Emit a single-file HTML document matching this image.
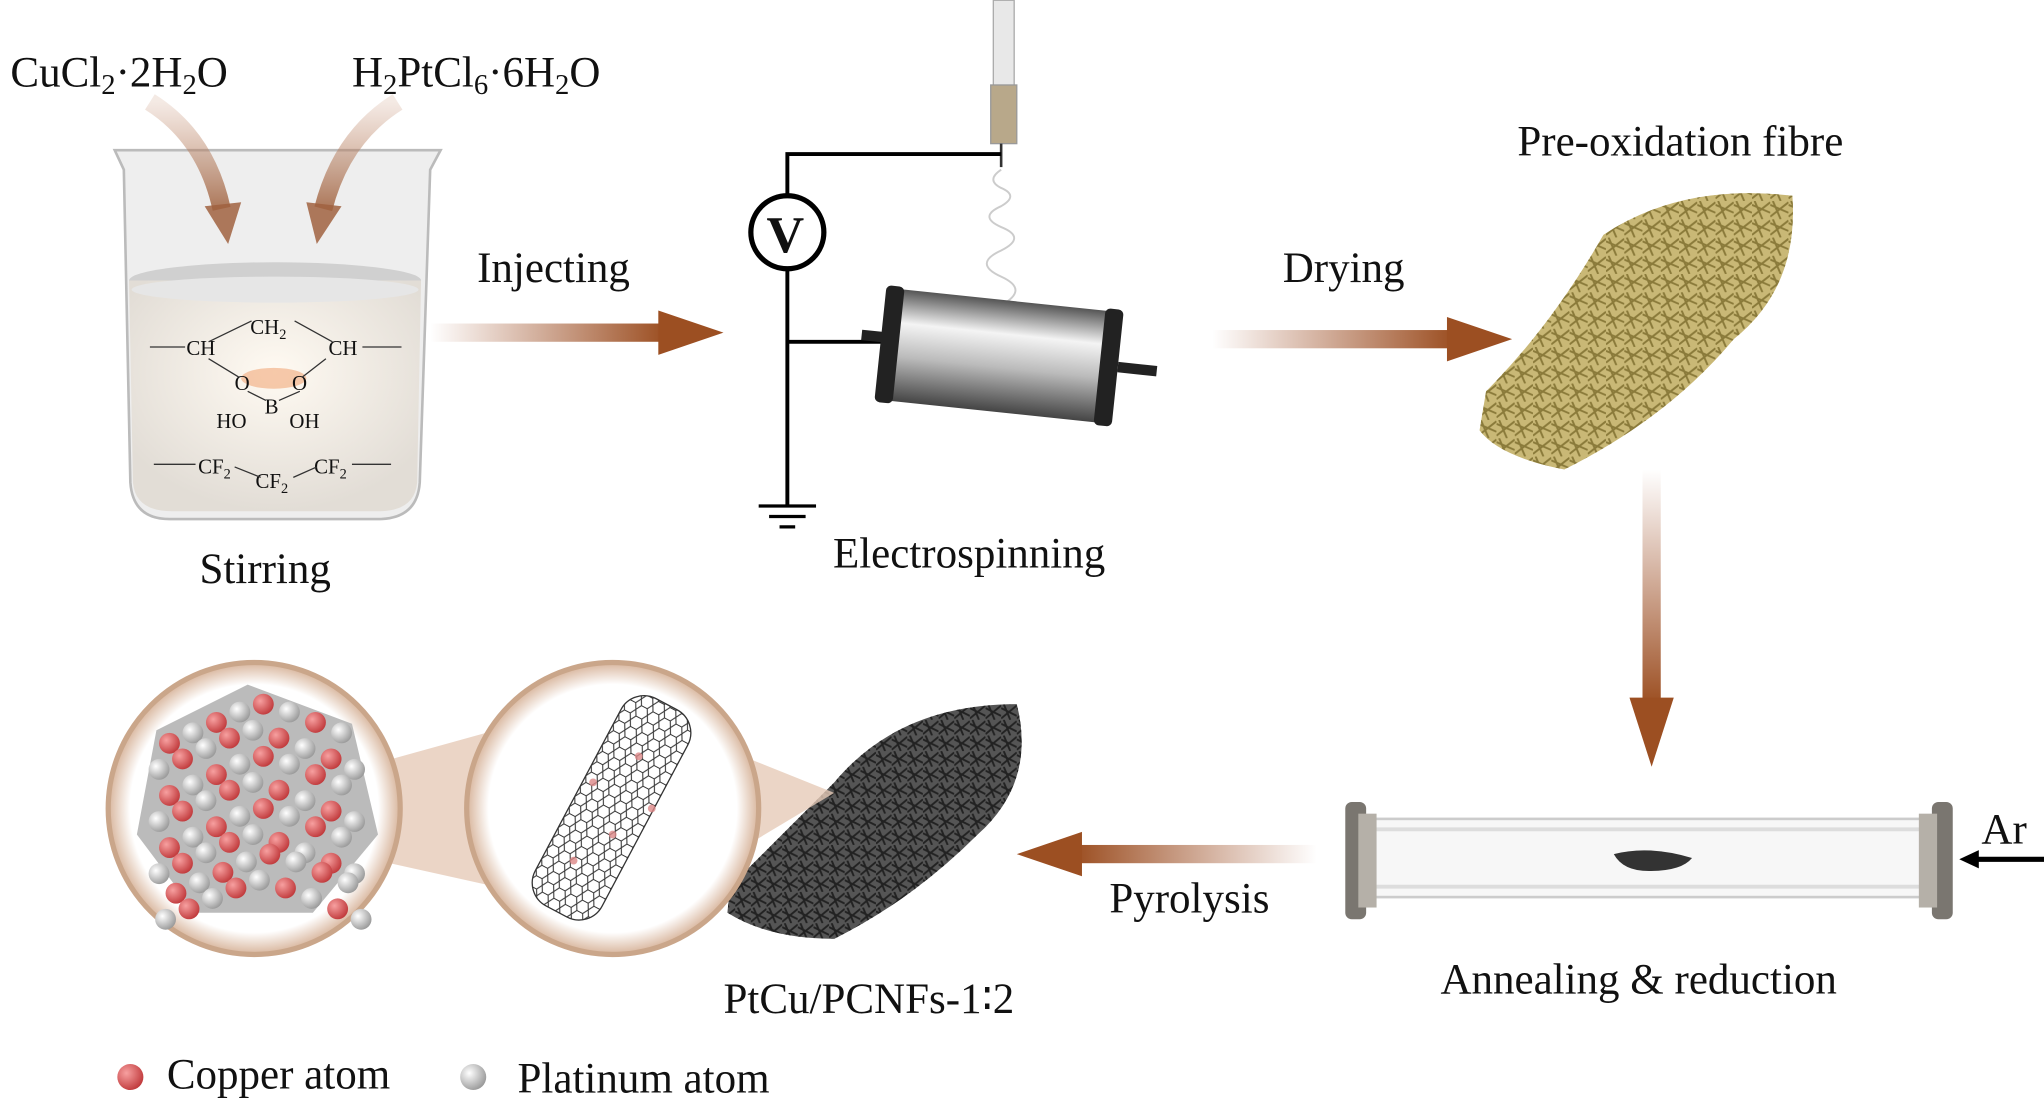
<!DOCTYPE html>
<html><head><meta charset="utf-8"><style>
html,body{margin:0;padding:0;background:#fff;}
svg{display:block;}
text{font-family:"Liberation Serif",serif;fill:#111;}
</style></head><body>
<svg width="2044" height="1102" viewBox="0 0 1568 845" xmlns="http://www.w3.org/2000/svg">
<defs>
<linearGradient id="ar" x1="0" x2="1" y1="0" y2="0"><stop offset="0" stop-color="#a0522d" stop-opacity="0"/><stop offset="1" stop-color="#9c4f22"/></linearGradient>
<linearGradient id="arl" x1="1" x2="0" y1="0" y2="0"><stop offset="0" stop-color="#a0522d" stop-opacity="0"/><stop offset="1" stop-color="#9c4f22"/></linearGradient>
<linearGradient id="ard" x1="0" x2="0" y1="0" y2="1"><stop offset="0" stop-color="#a0522d" stop-opacity="0"/><stop offset="1" stop-color="#9c4f22"/></linearGradient>
<linearGradient id="bk" x1="0" x2="0" y1="0" y2="1"><stop offset="0" stop-color="#c89478" stop-opacity=".2"/><stop offset="1" stop-color="#a0623f" stop-opacity=".85"/></linearGradient>
<linearGradient id="cyl" x1="0" x2="0" y1="0" y2="1"><stop offset="0" stop-color="#555"/><stop offset=".3" stop-color="#f4f4f4"/><stop offset=".6" stop-color="#bbb"/><stop offset="1" stop-color="#444"/></linearGradient>
<radialGradient id="liq" cx=".5" cy=".4" r=".6"><stop offset="0" stop-color="#fffaf2"/><stop offset="1" stop-color="#e2ddd6"/></radialGradient>
<radialGradient id="circ" cx=".5" cy=".5" r=".5"><stop offset=".85" stop-color="#fff"/><stop offset="1" stop-color="#d8b59c"/></radialGradient>
<radialGradient id="cu" cx=".35" cy=".35" r=".7"><stop offset="0" stop-color="#f7a0a0"/><stop offset="1" stop-color="#c0393b"/></radialGradient>
<radialGradient id="pt" cx=".35" cy=".35" r=".7"><stop offset="0" stop-color="#fff"/><stop offset="1" stop-color="#999"/></radialGradient>
<pattern id="fibre" width="14" height="14" patternUnits="userSpaceOnUse"><path d="M0 3 L14 9 M2 0 L8 14 M0 12 L14 1" stroke="#8a7a3a" stroke-width="1.5"/></pattern>
<pattern id="fibreb" width="12" height="12" patternUnits="userSpaceOnUse"><path d="M0 3 L12 9 M2 0 L7 12 M0 11 L12 1" stroke="#222" stroke-width="1.5"/></pattern>
<pattern id="hex" width="10" height="9" patternUnits="userSpaceOnUse"><path d="M0 4.5 L2.5 0 L7.5 0 L10 4.5 L7.5 9 L2.5 9 Z" fill="none" stroke="#333" stroke-width=".8"/></pattern>
</defs>
<text x="8" y="66" font-size="33">CuCl<tspan font-size="22" dy="6">2</tspan><tspan dy="-6">·2H</tspan><tspan font-size="22" dy="6">2</tspan><tspan dy="-6">O</tspan></text>
<text x="270" y="66" font-size="33">H<tspan font-size="22" dy="6">2</tspan><tspan dy="-6">PtCl</tspan><tspan font-size="22" dy="6">6</tspan><tspan dy="-6">·6H</tspan><tspan font-size="22" dy="6">2</tspan><tspan dy="-6">O</tspan></text>
<path d="M88 115 L338 115 L330 130 L322 370 Q320 398 290 398 L130 398 Q102 398 100 370 L95 130 Z" fill="#eeeeee" stroke="#bbb" stroke-width="2"/>
<ellipse cx="211" cy="215" rx="112" ry="14" fill="#d0d0d0"/>
<path d="M99 215 L323 215 L320 370 Q318 392 290 392 L132 392 Q104 392 102 370 Z" fill="url(#liq)"/>
<ellipse cx="211" cy="222" rx="110" ry="10" fill="#e6e6e6"/>
<ellipse cx="210" cy="290" rx="25" ry="8" fill="#f2b48a" opacity=".7"/>
<path d="M115 78 Q158 105 170 160" stroke="url(#bk)" stroke-width="14" fill="none"/>
<path d="M157 158 L175 187 L185 155 Z" fill="#a0623f" opacity=".85"/>
<path d="M305 78 Q262 105 248 160" stroke="url(#bk)" stroke-width="14" fill="none"/>
<path d="M235 155 L243 187 L262 158 Z" fill="#a0623f" opacity=".85"/>
<g font-size="16">
<text x="143" y="272">CH</text><text x="192" y="256">CH<tspan font-size="11" dy="4">2</tspan></text><text x="252" y="272">CH</text>
<text x="180" y="299">O</text><text x="224" y="299">O</text><text x="203" y="317">B</text>
<text x="166" y="328">HO</text><text x="222" y="328">OH</text>
<text x="152" y="363">CF<tspan font-size="11" dy="4">2</tspan></text><text x="196" y="374">CF<tspan font-size="11" dy="4">2</tspan></text><text x="241" y="363">CF<tspan font-size="11" dy="4">2</tspan></text>
</g>
<path d="M160 262 L193 246 M226 246 L255 262 M160 275 L183 289 M250 275 L232 289 M190 300 L204 307 M230 300 L214 307 M180 358 L200 366 M225 366 L243 358 M115 266 L142 266 M278 266 L308 266 M118 356 L150 356 M270 356 L300 356" stroke="#333" fill="none"/>
<text x="153" y="447" font-size="33">Stirring</text>
<rect x="330" y="248" width="180" height="14" fill="url(#ar)"/><path d="M505 238 L555 255 L505 272 Z" fill="#9c4f22"/>
<text x="366" y="216" font-size="33">Injecting</text>
<rect x="762" y="0" width="16" height="72" fill="#e8e8e8" stroke="#aaa"/>
<rect x="760" y="65" width="20" height="45" fill="#b8a88a" stroke="#999"/>
<path d="M768 110 L768 128" stroke="#333" stroke-width="2"/>
<path d="M768 130 q-12 8 0 14 q14 6 0 14 q-18 8 0 16 q20 8 0 18 q-22 10 0 20 q22 10 0 22" stroke="#ccc" fill="none" stroke-width="1.5"/>
<path d="M768 118 L604 118 L604 388 M604 262 L680 262" stroke="#000" stroke-width="3" fill="none"/>
<circle cx="604" cy="178" r="28" fill="#fff" stroke="#000" stroke-width="4"/>
<text x="588" y="193" font-size="40" font-weight="bold">V</text>
<path d="M582 388 L626 388 M590 396 L618 396 M598 404 L610 404" stroke="#000" stroke-width="2.5"/>
<g transform="rotate(6 768 272)">
<rect x="680" y="230" width="170" height="86" fill="url(#cyl)"/>
<rect x="675" y="228" width="14" height="90" rx="4" fill="#222"/>
<rect x="844" y="228" width="14" height="90" rx="4" fill="#222"/>
<rect x="858" y="268" width="30" height="8" fill="#222"/><rect x="660" y="264" width="18" height="8" fill="#222"/>
</g>
<text x="639" y="435" font-size="33">Electrospinning</text>
<rect x="930" y="253" width="185" height="14" fill="url(#ar)"/><path d="M1110 243 L1160 260 L1110 277 Z" fill="#9c4f22"/>
<text x="984" y="216" font-size="33">Drying</text>
<text x="1164" y="119" font-size="33">Pre-oxidation fibre</text>
<path d="M1140 300 Q1190 250 1230 180 Q1290 140 1375 150 Q1380 220 1330 260 Q1280 320 1200 360 Q1150 350 1135 330 Z" fill="#c9b876"/>
<path d="M1140 300 Q1190 250 1230 180 Q1290 140 1375 150 Q1380 220 1330 260 Q1280 320 1200 360 Q1150 350 1135 330 Z" fill="url(#fibre)"/>
<rect x="1260" y="360" width="14" height="180" fill="url(#ard)"/><path d="M1250 535 L1267 588 L1284 535 Z" fill="#9c4f22"/>
<rect x="1045" y="628" width="440" height="60" fill="#f7f7f7" stroke="#ccc" stroke-width="2"/>
<path d="M1045 636 L1485 636 M1045 680 L1485 680" stroke="#ddd" stroke-width="3"/>
<rect x="1032" y="615" width="16" height="90" rx="5" fill="#7a7670"/><rect x="1042" y="624" width="14" height="72" fill="#b5b0a8"/>
<rect x="1482" y="615" width="16" height="90" rx="5" fill="#7a7670"/><rect x="1472" y="624" width="14" height="72" fill="#b5b0a8"/>
<path d="M1238 655 Q1265 648 1298 658 Q1290 668 1265 668 Q1245 668 1238 655 Z" fill="#333"/>
<text x="1520" y="647" font-size="33">Ar</text>
<path d="M1568 659 L1515 659" stroke="#000" stroke-width="4"/><path d="M1518 652 L1503 659 L1518 666 Z" fill="#000"/>
<text x="1105" y="762" font-size="33">Annealing &amp; reduction</text>
<rect x="825" y="648" width="185" height="14" fill="url(#arl)"/><path d="M830 638 L780 655 L830 672 Z" fill="#9c4f22"/>
<text x="851" y="700" font-size="33">Pyrolysis</text>
<path d="M560 680 Q600 640 640 600 Q690 540 780 540 Q795 600 750 640 Q700 690 640 720 Q590 720 558 700 Z" fill="#555"/>
<path d="M560 680 Q600 640 640 600 Q690 540 780 540 Q795 600 750 640 Q700 690 640 720 Q590 720 558 700 Z" fill="url(#fibreb)"/>
<text x="555" y="777" font-size="33">PtCu/PCNFs-1∶2</text>
<path d="M520 560 L640 608 L520 680 Z" fill="#e6cbb8" opacity=".8"/>
<path d="M290 585 L380 560 L380 680 L290 660 Z" fill="#e6cbb8" opacity=".8"/>
<circle cx="470" cy="620" r="112" fill="url(#circ)" stroke="#caa68a" stroke-width="4"/>
<g transform="rotate(28 470 620)">
<rect x="440" y="530" width="58" height="180" rx="20" fill="#fff" stroke="#333"/>
<rect x="440" y="530" width="58" height="180" rx="20" fill="url(#hex)"/>
</g>
<g fill="#d88" opacity=".8"><circle cx="455" cy="600" r="3"/><circle cx="470" cy="640" r="3"/><circle cx="490" cy="580" r="3"/><circle cx="440" cy="660" r="3"/><circle cx="500" cy="620" r="3"/></g>
<circle cx="195" cy="620" r="112" fill="url(#circ)" stroke="#caa68a" stroke-width="4"/>
<g>
<path d="M120 560 L190 525 L270 555 L290 640 L240 700 L150 700 L105 640 Z" fill="#bbb"/>
<g id="atoms">
<circle cx="130" cy="570" r="8" fill="url(#cu)"/><circle cx="148" cy="562" r="8" fill="url(#pt)"/><circle cx="166" cy="554" r="8" fill="url(#cu)"/><circle cx="184" cy="546" r="8" fill="url(#pt)"/><circle cx="202" cy="540" r="8" fill="url(#cu)"/><circle cx="222" cy="546" r="8" fill="url(#pt)"/><circle cx="242" cy="554" r="8" fill="url(#cu)"/><circle cx="262" cy="562" r="8" fill="url(#pt)"/>
<circle cx="122" cy="590" r="8" fill="url(#pt)"/><circle cx="140" cy="582" r="8" fill="url(#cu)"/><circle cx="158" cy="574" r="8" fill="url(#pt)"/><circle cx="176" cy="566" r="8" fill="url(#cu)"/><circle cx="194" cy="560" r="8" fill="url(#pt)"/><circle cx="214" cy="566" r="8" fill="url(#cu)"/><circle cx="234" cy="574" r="8" fill="url(#pt)"/><circle cx="254" cy="582" r="8" fill="url(#cu)"/><circle cx="272" cy="590" r="8" fill="url(#pt)"/>
</g>
<use href="#atoms" transform="translate(0 40)"/>
<use href="#atoms" transform="translate(0 80)"/>
<use href="#atoms" transform="translate(5 115)"/>
</g>
<circle cx="100" cy="826" r="10" fill="url(#cu)"/><text x="128" y="835" font-size="33">Copper atom</text>
<circle cx="363" cy="826" r="10" fill="url(#pt)"/><text x="397" y="838" font-size="33">Platinum atom</text>
</svg>
</body></html>
